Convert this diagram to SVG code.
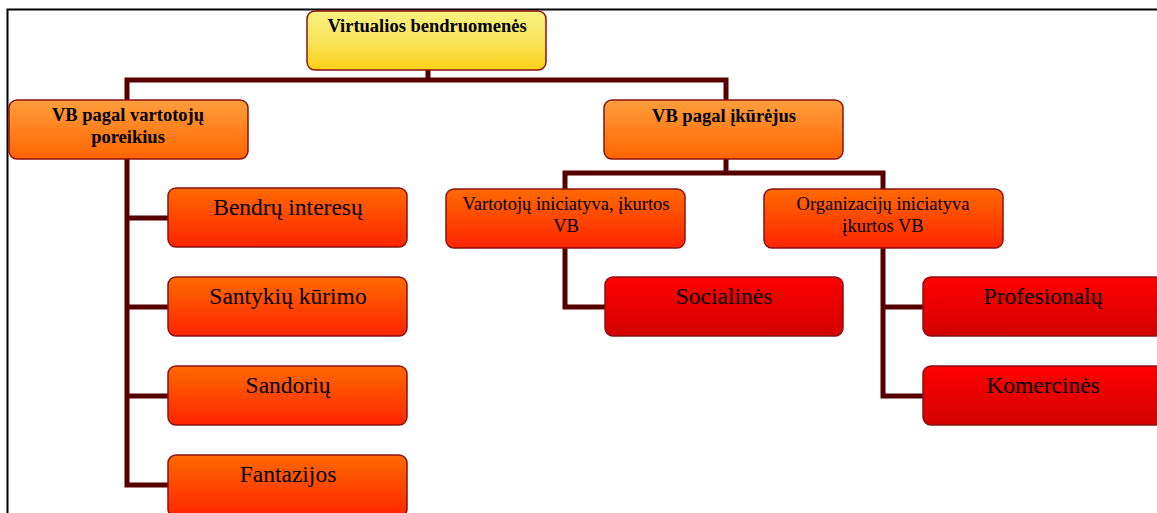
<svg xmlns="http://www.w3.org/2000/svg" width="1157" height="513" viewBox="0 0 1157 513">
<defs>
<linearGradient id="gY" x1="0" y1="0" x2="0" y2="1"><stop offset="0" stop-color="#f8f282"/><stop offset="0.5" stop-color="#f8e45a"/><stop offset="1" stop-color="#fdd017"/></linearGradient>
<linearGradient id="gO" x1="0" y1="0" x2="0" y2="1"><stop offset="0" stop-color="#ff9e3c"/><stop offset="1" stop-color="#ff6400"/></linearGradient>
<linearGradient id="gOR" x1="0" y1="0" x2="0" y2="1"><stop offset="0" stop-color="#ff6a00"/><stop offset="1" stop-color="#ff2400"/></linearGradient>
<linearGradient id="gR" x1="0" y1="0" x2="0" y2="1"><stop offset="0" stop-color="#ff0000"/><stop offset="1" stop-color="#d20000"/></linearGradient>
</defs>
<style>
.box{stroke:#8b1212;stroke-width:1.5}
.c{fill:none;stroke:#560000;stroke-width:5}
.t{font-family:"Liberation Serif","Times New Roman",serif;fill:#000;text-anchor:middle}
.b{font-weight:bold;font-size:18.5px}
.l3{font-size:23.5px}
.l2{font-size:18.5px}
</style>
<rect width="1157" height="513" fill="#fff"/>
<path d="M7.5,513 V9.5 H1157" fill="none" stroke="#000" stroke-width="2"/>
<g id="connectors">
<path class="c" d="M428,70 V80 M127,101 V80 H726 V101"/>
<path class="c" d="M127,159 V485 H168 M127,218 H168 M127,307 H168 M127,396 H168"/>
<path class="c" d="M726,159 V173 M565,190 V173 H883 V190"/>
<path class="c" d="M565,248 V307 H605"/>
<path class="c" d="M883,248 V396 H923 M883,307 H923"/>
</g>
<g id="n-root"><rect class="box" x="307" y="11" width="239" height="59" rx="8" fill="url(#gY)"/><text class="t b" x="427" y="32">Virtualios bendruomenės</text></g>
<g id="n-poreikius"><rect class="box" x="9" y="100" width="239" height="59" rx="8" fill="url(#gO)"/><text class="t b" x="128" y="121">VB pagal vartotojų</text><text class="t b" x="128" y="143">poreikius</text></g>
<g id="n-ikurejus"><rect class="box" x="604" y="100" width="239" height="59" rx="8" fill="url(#gO)"/><text class="t b" x="724" y="122">VB pagal įkūrėjus</text></g>
<g id="n-bendru"><rect class="box" x="168" y="188" width="239" height="59" rx="8" fill="url(#gOR)"/><text class="t l3" x="288" y="215">Bendrų interesų</text></g>
<g id="n-santykiu"><rect class="box" x="168" y="277" width="239" height="59" rx="8" fill="url(#gOR)"/><text class="t l3" x="288" y="304">Santykių kūrimo</text></g>
<g id="n-sandoriu"><rect class="box" x="168" y="366" width="239" height="59" rx="8" fill="url(#gOR)"/><text class="t l3" x="288" y="393">Sandorių</text></g>
<g id="n-fantazijos"><rect class="box" x="168" y="455" width="239" height="62" rx="8" fill="url(#gOR)"/><text class="t l3" x="288" y="482">Fantazijos</text></g>
<g id="n-vartotoju"><rect class="box" x="446" y="189" width="239" height="59" rx="8" fill="url(#gOR)"/><text class="t l2" x="566" y="210">Vartotojų iniciatyva, įkurtos</text><text class="t l2" x="566" y="232">VB</text></g>
<g id="n-organizaciju"><rect class="box" x="764" y="189" width="239" height="59" rx="8" fill="url(#gOR)"/><text class="t l2" x="883" y="210">Organizacijų iniciatyva</text><text class="t l2" x="883" y="232">įkurtos VB</text></g>
<g id="n-socialines"><rect class="box" x="605" y="277" width="238" height="59" rx="8" fill="url(#gR)"/><text class="t l3" x="724" y="304">Socialinės</text></g>
<g id="n-profesionalu"><rect class="box" x="923" y="277" width="240" height="59" rx="8" fill="url(#gR)"/><text class="t l3" x="1043" y="304">Profesionalų</text></g>
<g id="n-komercines"><rect class="box" x="923" y="366" width="240" height="59" rx="8" fill="url(#gR)"/><text class="t l3" x="1043" y="393">Komercinės</text></g>
</svg>
